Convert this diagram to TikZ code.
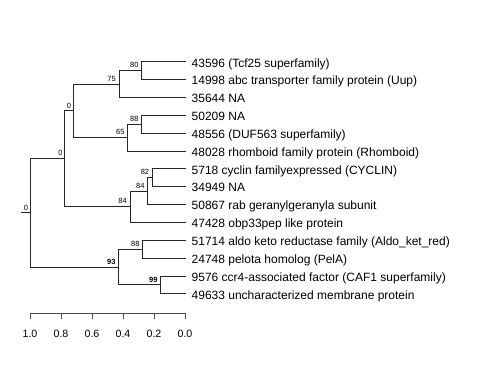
\documentclass[tikz,border=0pt]{standalone}
\usepackage{fontspec}
\setmainfont{Liberation Sans}
\begin{document}
\begin{tikzpicture}[x=1bp,y=-1bp,
  branch/.style={draw=black!85,line width=0.75bp},
  axisline/.style={draw=black!70,line width=0.75bp},
  leaflab/.style={anchor=base west,inner sep=0pt,font=\fontsize{12bp}{12bp}\selectfont},
  support/.style={anchor=south east,inner sep=0pt,font=\fontsize{7.5bp}{7.5bp}\selectfont},
  boldsupport/.style={support,font=\fontsize{7.5bp}{7.5bp}\selectfont\bfseries},
  ticklab/.style={anchor=base,inner sep=0pt,font=\fontsize{10.6bp}{10.6bp}\selectfont}]
\useasboundingbox (0,0) rectangle (480,384);
% leaf tips
\foreach \i/\yy in {1/61.7,2/79.6,3/97.4,4/115.3,5/133.1,6/151.0,7/168.8,8/186.6,9/204.5,10/222.3,11/240.2,12/258.0,13/275.9,14/293.7}
  {\coordinate (t\i) at (186,\yy);}
% internal nodes
\coordinate (E) at (141.7,70.65);
\coordinate (D) at (119.0,84.0);
\coordinate (G) at (141.7,124.2);
\coordinate (F) at (127.7,137.6);
\coordinate (B) at (73.3,110.8);
\coordinate (I) at (152.3,177.7);
\coordinate (H) at (147.7,191.1);
\coordinate (C) at (130.0,206.7);
\coordinate (A) at (64.3,158.75);
\coordinate (K) at (142.7,249.1);
\coordinate (L) at (160.7,284.8);
\coordinate (J) at (118.7,266.95);
\coordinate (R) at (30.7,212.85);
\coordinate (Rs) at (21,212.85);
% branches
\draw[branch] (E) |- (t1); \draw[branch] (E) |- (t2);
\draw[branch] (D) |- (E); \draw[branch] (D) |- (t3);
\draw[branch] (G) |- (t4); \draw[branch] (G) |- (t5);
\draw[branch] (F) |- (G); \draw[branch] (F) |- (t6);
\draw[branch] (B) |- (D); \draw[branch] (B) |- (F);
\draw[branch] (I) |- (t7); \draw[branch] (I) |- (t8);
\draw[branch] (H) |- (I); \draw[branch] (H) |- (t9);
\draw[branch] (C) |- (H); \draw[branch] (C) |- (t10);
\draw[branch] (A) |- (B); \draw[branch] (A) |- (C);
\draw[branch] (K) |- (t11); \draw[branch] (K) |- (t12);
\draw[branch] (L) |- (t13); \draw[branch] (L) |- (t14);
\draw[branch] (J) |- (K); \draw[branch] (J) |- (L);
\draw[branch] (R) |- (A); \draw[branch] (R) |- (J);
\draw[branch] (Rs) -- (R);
% support values
\node[support] (sE) at ([shift={(-3,-2.5)}]E) {80};
\node[support] (sD) at ([shift={(-3,-2.5)}]D) {75};
\node[support] (sG) at ([shift={(-3,-2.5)}]G) {88};
\node[support] (sF) at ([shift={(-3,-2.5)}]F) {65};
\node[support] (sB) at ([shift={(-2,-2.5)}]B) {0};
\node[support] (sI) at ([shift={(-3,-2.5)}]I) {82};
\node[support] (sH) at ([shift={(-3,-2.5)}]H) {84};
\node[support] (sC) at ([shift={(-3,-2.5)}]C) {84};
\node[support] (sA) at ([shift={(-1.5,-2.5)}]A) {0};
\node[support] (sK) at ([shift={(-3,-2.5)}]K) {88};
\node[boldsupport] (sL) at ([shift={(-3,-2.5)}]L) {99};
\node[boldsupport] (sJ) at ([shift={(-3,-2.5)}]J) {93};
\node[support] (sR) at ([shift={(-2.5,-2.5)}]R) {0};
% leaf labels
\node[leaflab] (n1) at ([shift={(5.5,5.3)}]t1) {43596 (Tcf25 superfamily)};
\node[leaflab] (n2) at ([shift={(5.5,5.3)}]t2) {14998 abc transporter family protein (Uup)};
\node[leaflab] (n3) at ([shift={(5.5,5.3)}]t3) {35644 NA};
\node[leaflab] (n4) at ([shift={(5.5,5.3)}]t4) {50209 NA};
\node[leaflab] (n5) at ([shift={(5.5,5.3)}]t5) {48556 (DUF563 superfamily)};
\node[leaflab] (n6) at ([shift={(5.5,5.3)}]t6) {48028 rhomboid family protein (Rhomboid)};
\node[leaflab] (n7) at ([shift={(5.5,5.3)}]t7) {5718 cyclin familyexpressed (CYCLIN)};
\node[leaflab] (n8) at ([shift={(5.5,5.3)}]t8) {34949 NA};
\node[leaflab] (n9) at ([shift={(5.5,5.3)}]t9) {50867 rab geranylgeranyla subunit};
\node[leaflab] (n10) at ([shift={(5.5,5.3)}]t10) {47428 obp33pep like protein};
\node[leaflab] (n11) at ([shift={(5.5,5.3)}]t11) {51714 aldo keto reductase family (Aldo\_ket\_red)};
\node[leaflab] (n12) at ([shift={(5.5,5.3)}]t12) {24748 pelota homolog (PelA)};
\node[leaflab] (n13) at ([shift={(5.5,5.3)}]t13) {9576 ccr4-associated factor (CAF1 superfamily)};
\node[leaflab] (n14) at ([shift={(5.5,5.3)}]t14) {49633 uncharacterized membrane protein};
% scale axis
\coordinate (ax0) at (30,313.3);
\coordinate (ax1) at (185,313.3);
\draw[axisline] (ax0) -- (ax1);
\foreach \v/\xx in {1.0/30,0.8/61,0.6/92,0.4/123,0.2/154,0.0/185}{
  \coordinate (tk\xx) at (\xx,313.3);
  \draw[axisline] (tk\xx) -- ++(0,5.5);
  \node[ticklab] (tl\xx) at ([shift={(0,24.3)}]tk\xx) {\v};
}
\end{tikzpicture}
\end{document}
